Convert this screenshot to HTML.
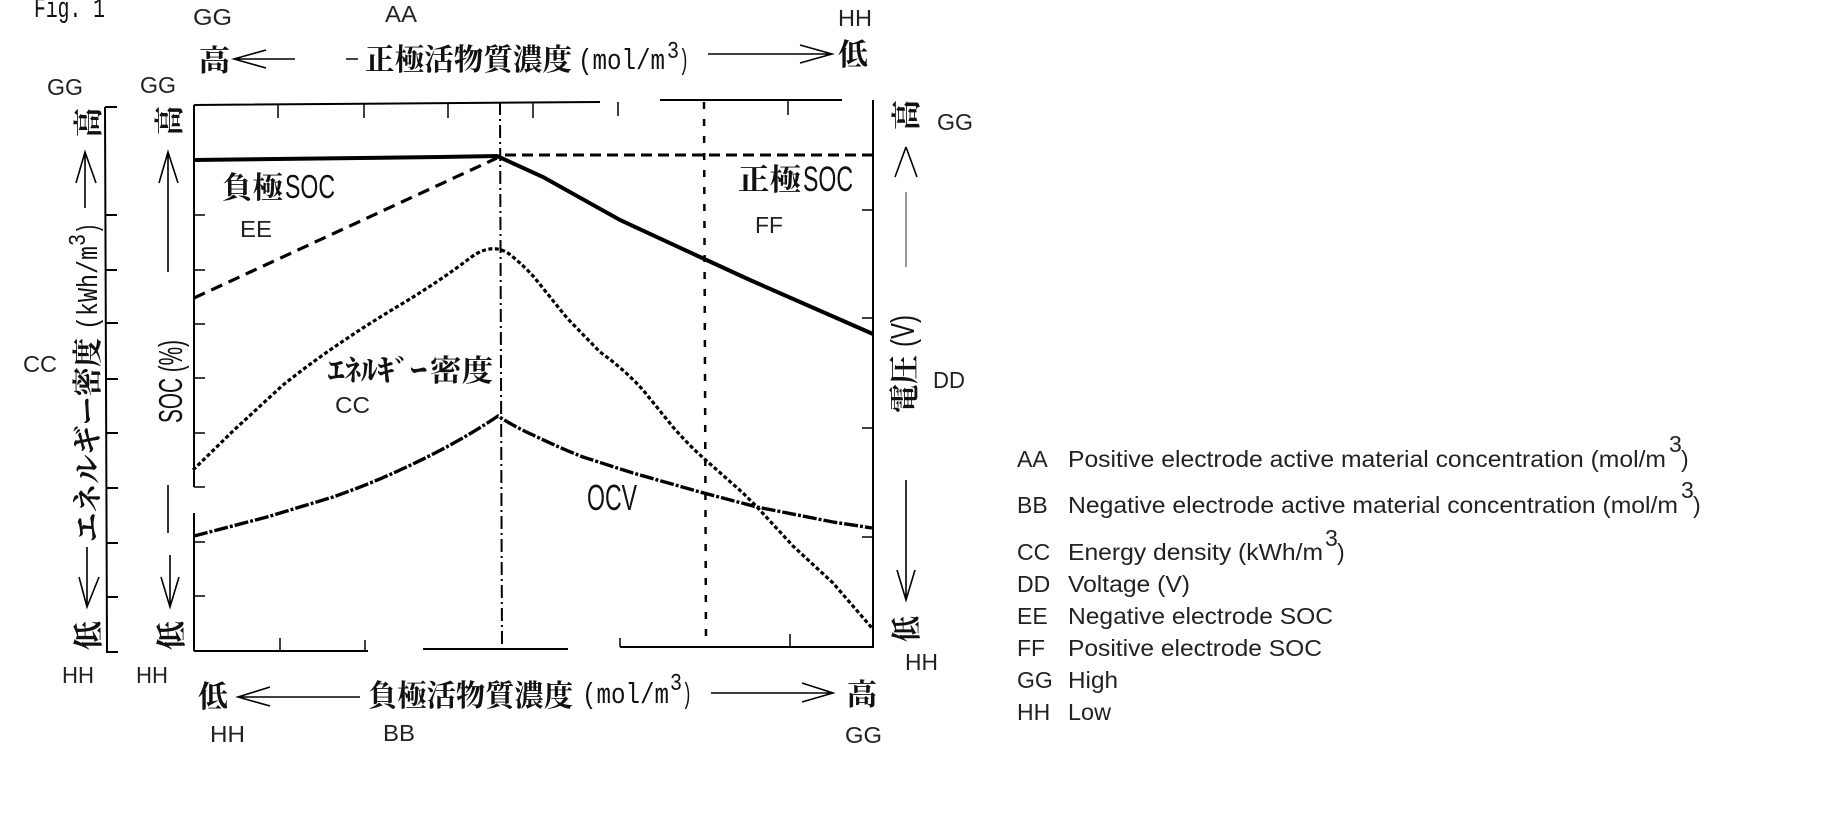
<!DOCTYPE html>
<html><head><meta charset="utf-8"><style>
html,body{margin:0;padding:0;background:#fff;width:1833px;height:829px;overflow:hidden}
svg{display:block}
.s{font-family:"Liberation Sans",sans-serif;font-size:23px;fill:#222}
.c{font-family:"Liberation Serif","Noto Serif CJK JP","Noto Serif CJK SC",serif;font-size:30px;font-weight:700;fill:#111}
.m{font-family:"Liberation Mono",monospace;font-size:29px;fill:#111}
.g{font-family:"Liberation Sans",sans-serif;font-size:33px;fill:#111}
</style></head><body>
<svg width="1833" height="829" viewBox="0 0 1833 829" xmlns="http://www.w3.org/2000/svg">
<g fill="none" stroke="#000" stroke-width="2">
<!-- plot frame -->
<path d="M194 105L600 102M660 100H842M873 100V647M194 105V487M194 513V651M194 651H368M423 649H568M620 647H874"/>
<!-- top ticks -->
<path d="M278 105V118M364 104V118M448 104V118M533 103V118M618 102V116M788 101V115M873 100V118" stroke-width="1.5"/>
<!-- bottom ticks -->
<path d="M280 638V650M365 640V650M620 638V647M790 634V647" stroke-width="1.5"/>
<!-- left ticks -->
<path d="M194 215H205M194 270H205M194 324H205M194 378H205M194 433H205M194 487H205M194 542H205M194 596H205" stroke-width="1.5"/>
<!-- right ticks -->
<path d="M862 210H874M862 318H874M862 428H874M862 537H874" stroke-width="1.5"/>
<!-- energy axis -->
<path d="M105 107H117M105 107L107 652H118M106 215H117M106 270H117M106 323H118M106 379H118M106 433H118M106 488H118M106 543H118M106 597H118" stroke-width="2"/>
<!-- arrows -->
<g stroke-width="1.6">
<path d="M295 59H234M266 50L234 59L266 68M346 59H358"/>
<path d="M708 54H832M800 45L832 54L800 63"/>
<path d="M360 697H238M270 687L238 697L270 706"/>
<path d="M711 693H833M802 683L833 693L802 702"/>
<path d="M85 208V152M76 183L85 152L96 183"/>
<path d="M168 272V152M159 183L168 152L178 183"/>
<path d="M168 485V533M170 555V607M161 577L170 607L179 577"/>
<path d="M87 547V607M79 577L87 607L99 577"/>
<path d="M906 147L895 177M906 147L917 177"/>
<path d="M906 192V267" stroke="#999" stroke-width="2"/>
<path d="M906 480V600M897 570L906 600L915 570"/>
</g>
<!-- vertical guides -->
<path d="M500 102L502 649" stroke-width="2" stroke-dasharray="13 4 2 4"/>
<path d="M704 102L706 647" stroke-width="2.5" stroke-dasharray="7 10"/>
<!-- curves -->
<path d="M194 160L440 157L497 156L543 177L620 220L700 257L750 280L873 334" stroke-width="4"/>
<path d="M505 155H874" stroke-width="3" stroke-dasharray="11 6"/>
<path d="M194 298L497 158" stroke-width="3.2" stroke-dasharray="12 7"/>
<path d="M193 470L233 431L283 385Q333 345 400 305Q440 281 470 258Q494 240 513 257Q525 267 534 277L567 318L600 352Q625 370 643 390L673 427Q686 442 700 455L743 493L757 507L793 546L833 583L872 628" stroke-width="3.2" stroke-dasharray="4 2.5"/>
<path d="M194 536L267 517L333 497Q370 484 400 470Q455 445 498 416Q515 427 533 435Q560 448 583 457L633 473L700 492L757 507L833 522L872 528" stroke-width="3.4" stroke-dasharray="14 2 3 2"/>
</g>

<text class="m" x="34" y="17" textLength="71" lengthAdjust="spacingAndGlyphs">Fig. 1</text>

<!-- top axis -->
<text class="s" x="193" y="25" textLength="39" lengthAdjust="spacingAndGlyphs">GG</text>
<text class="s" x="385" y="22" textLength="32" lengthAdjust="spacingAndGlyphs">AA</text>
<text class="s" x="838" y="26" textLength="34" lengthAdjust="spacingAndGlyphs">HH</text>
<text class="c" x="199" y="71" textLength="31" lengthAdjust="spacingAndGlyphs">高</text>
<text class="c" x="365" y="70" textLength="207" lengthAdjust="spacingAndGlyphs">正極活物質濃度</text>
<text class="m" x="578" y="69" textLength="87" lengthAdjust="spacingAndGlyphs">(mol/m</text>
<text class="m" x="667" y="58" style="font-size:24px" textLength="12" lengthAdjust="spacingAndGlyphs">3</text>
<text class="m" x="679" y="69" textLength="10" lengthAdjust="spacingAndGlyphs">)</text>
<text class="c" x="838" y="65" textLength="30" lengthAdjust="spacingAndGlyphs">低</text>

<!-- bottom axis -->
<text class="c" x="198" y="707" textLength="30" lengthAdjust="spacingAndGlyphs">低</text>
<text class="c" x="368" y="706" textLength="205" lengthAdjust="spacingAndGlyphs">負極活物質濃度</text>
<text class="m" x="582" y="703" textLength="87" lengthAdjust="spacingAndGlyphs">(mol/m</text>
<text class="m" x="670" y="690" style="font-size:24px" textLength="12" lengthAdjust="spacingAndGlyphs">3</text>
<text class="m" x="682" y="703" textLength="10" lengthAdjust="spacingAndGlyphs">)</text>
<text class="c" x="847" y="705" textLength="30" lengthAdjust="spacingAndGlyphs">高</text>
<text class="s" x="210" y="742" textLength="35" lengthAdjust="spacingAndGlyphs">HH</text>
<text class="s" x="383" y="741" textLength="32" lengthAdjust="spacingAndGlyphs">BB</text>
<text class="s" x="845" y="743" textLength="37" lengthAdjust="spacingAndGlyphs">GG</text>

<!-- left labels -->
<text class="s" x="47" y="95" textLength="36" lengthAdjust="spacingAndGlyphs">GG</text>
<text class="s" x="140" y="93" textLength="36" lengthAdjust="spacingAndGlyphs">GG</text>
<text class="s" x="23" y="372" textLength="34" lengthAdjust="spacingAndGlyphs">CC</text>
<text class="s" x="62" y="683" textLength="32" lengthAdjust="spacingAndGlyphs">HH</text>
<text class="s" x="136" y="683" textLength="32" lengthAdjust="spacingAndGlyphs">HH</text>
<text class="c" transform="translate(99,137) rotate(-90)" textLength="29" lengthAdjust="spacingAndGlyphs">高</text>
<text class="c" transform="translate(180,135) rotate(-90)" textLength="29" lengthAdjust="spacingAndGlyphs">高</text>
<text class="c" transform="translate(99,650) rotate(-90)" textLength="29" lengthAdjust="spacingAndGlyphs">低</text>
<text class="c" transform="translate(182,650) rotate(-90)" textLength="29" lengthAdjust="spacingAndGlyphs">低</text>
<text class="c" transform="translate(98,542) rotate(-90)" textLength="204" lengthAdjust="spacingAndGlyphs">エネルギー密度</text>
<text class="m" transform="translate(97,330) rotate(-90)" textLength="84" lengthAdjust="spacingAndGlyphs">(kWh/m</text>
<text class="m" transform="translate(85,246) rotate(-90)" style="font-size:24px" textLength="12" lengthAdjust="spacingAndGlyphs">3</text>
<text class="m" transform="translate(97,234) rotate(-90)" textLength="11" lengthAdjust="spacingAndGlyphs">)</text>
<text class="g" transform="translate(182,423) rotate(-90)" textLength="83" lengthAdjust="spacingAndGlyphs">SOC (%)</text>

<!-- right labels -->
<text class="c" transform="translate(917,130) rotate(-90)" textLength="30" lengthAdjust="spacingAndGlyphs">高</text>
<text class="c" transform="translate(917,642) rotate(-90)" textLength="26" lengthAdjust="spacingAndGlyphs">低</text>
<text class="c" transform="translate(915,413) rotate(-90)" textLength="58" lengthAdjust="spacingAndGlyphs">電圧</text>
<text class="g" transform="translate(914,347) rotate(-90)" textLength="32" lengthAdjust="spacingAndGlyphs">(V)</text>
<text class="s" x="937" y="130" textLength="36" lengthAdjust="spacingAndGlyphs">GG</text>
<text class="s" x="933" y="388" textLength="32" lengthAdjust="spacingAndGlyphs">DD</text>
<text class="s" x="905" y="670" textLength="33" lengthAdjust="spacingAndGlyphs">HH</text>

<!-- plot labels -->
<text class="c" x="222" y="198" textLength="61" lengthAdjust="spacingAndGlyphs">負極</text>
<text class="g" x="285" y="198" textLength="50" lengthAdjust="spacingAndGlyphs">SOC</text>
<text class="s" x="240" y="237" textLength="32" lengthAdjust="spacingAndGlyphs">EE</text>
<text class="c" x="738" y="190" textLength="63" lengthAdjust="spacingAndGlyphs">正極</text>
<text class="g" x="803" y="191" textLength="50" lengthAdjust="spacingAndGlyphs" style="font-size:35px">SOC</text>
<text class="s" x="755" y="233" textLength="28" lengthAdjust="spacingAndGlyphs">FF</text>
<text class="c" x="328" y="381" textLength="99" lengthAdjust="spacingAndGlyphs">ｴﾈﾙｷﾞｰ</text>
<text class="c" x="430" y="381" textLength="63" lengthAdjust="spacingAndGlyphs">密度</text>
<text class="s" x="335" y="413" textLength="35" lengthAdjust="spacingAndGlyphs">CC</text>
<text class="g" x="587" y="510" textLength="50" lengthAdjust="spacingAndGlyphs" style="font-size:36px">OCV</text>

<!-- legend -->
<g class="s">
<text class="s" x="1017" y="467">AA</text>
<text class="s" x="1068" y="467" textLength="598" lengthAdjust="spacingAndGlyphs">Positive electrode active material concentration (mol/m</text>
<text class="s" x="1669" y="452">3</text><text class="s" x="1681" y="467">)</text>
<text class="s" x="1017" y="513">BB</text>
<text class="s" x="1068" y="513" textLength="610" lengthAdjust="spacingAndGlyphs">Negative electrode active material concentration (mol/m</text>
<text class="s" x="1681" y="498">3</text><text class="s" x="1693" y="513">)</text>
<text class="s" x="1017" y="560">CC</text>
<text class="s" x="1068" y="560" textLength="255" lengthAdjust="spacingAndGlyphs">Energy density (kWh/m</text>
<text class="s" x="1325" y="546">3</text><text class="s" x="1337" y="560">)</text>
<text class="s" x="1017" y="592">DD</text>
<text class="s" x="1068" y="592" textLength="122" lengthAdjust="spacingAndGlyphs">Voltage (V)</text>
<text class="s" x="1017" y="624">EE</text>
<text class="s" x="1068" y="624" textLength="265" lengthAdjust="spacingAndGlyphs">Negative electrode SOC</text>
<text class="s" x="1017" y="656">FF</text>
<text class="s" x="1068" y="656" textLength="254" lengthAdjust="spacingAndGlyphs">Positive electrode SOC</text>
<text class="s" x="1017" y="688">GG</text>
<text class="s" x="1068" y="688" textLength="50" lengthAdjust="spacingAndGlyphs">High</text>
<text class="s" x="1017" y="720">HH</text>
<text class="s" x="1068" y="720" textLength="43" lengthAdjust="spacingAndGlyphs">Low</text>
</g>
</svg>
</body></html>
